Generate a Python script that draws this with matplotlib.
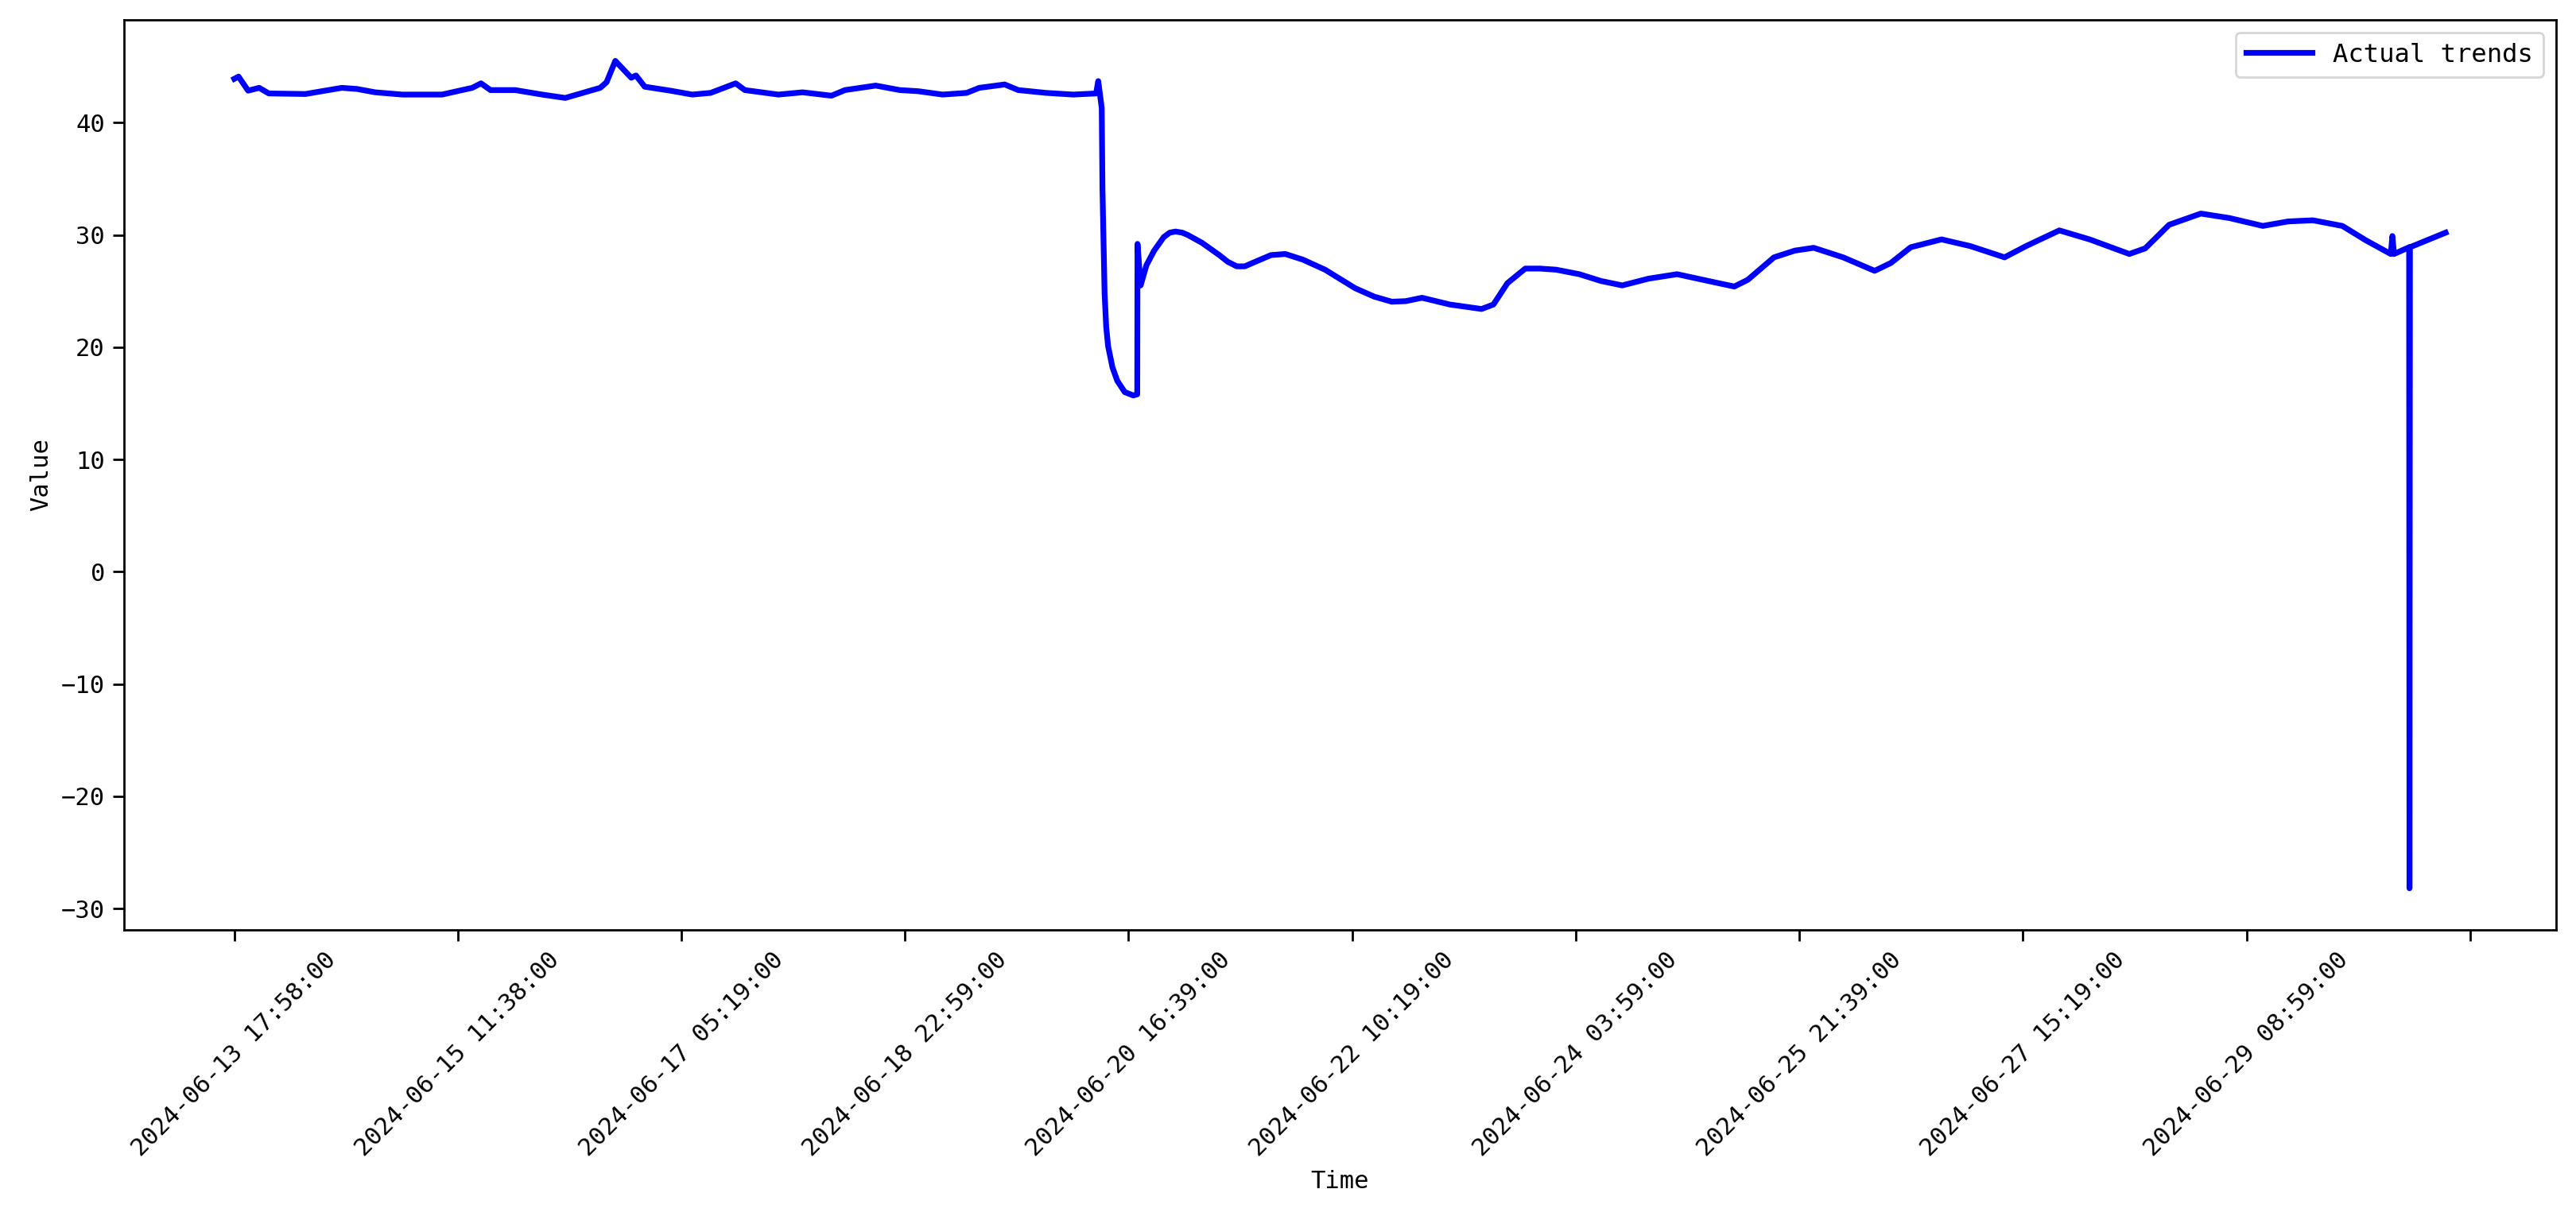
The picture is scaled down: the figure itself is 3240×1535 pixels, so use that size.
import matplotlib
matplotlib.use('Agg')
import matplotlib.pyplot as plt

plt.rcParams['font.family'] = ['DejaVu Sans Mono', 'Noto Sans CJK SC']
plt.rcParams['axes.unicode_minus'] = True

# sample index (1 sample / minute) and value
sample_idx = [0, 48, 155, 279, 386, 795, 1203, 1372, 1577, 1879,
              2323, 2661, 2759, 2865, 3141, 3443, 3701, 4092, 4163, 4261,
              4439, 4492, 4590, 4874, 5122, 5327, 5607, 5709, 6083, 6355,
              6678, 6829, 7172, 7442, 7646, 7922, 8189, 8331, 8615, 8766,
              9077, 9380, 9637, 9661, 9700, 9708, 9732, 9750, 9771, 9820,
              9874, 9957, 10052, 10097, 10100, 10135, 10200, 10286, 10393, 10460,
              10526, 10600, 10660, 10820, 11015, 11110, 11210, 11300, 11415, 11592,
              11752, 11948, 12197, 12534, 12747, 12943, 13100, 13281, 13592, 13947,
              14080, 14236, 14436, 14600, 14782, 15040, 15280, 15520, 15813, 16133,
              16480, 16773, 16924, 17217, 17450, 17661, 17990, 18342, 18524, 18746,
              19090, 19413, 19795, 20035, 20408, 20746, 21190, 21368, 21635, 21990,
              22310, 22683, 22968, 23243, 23572, 23839, 24114, 24132, 24150, 24319,
              24323, 24328, 24727]
values = [43.9, 44.1, 42.85, 43.1, 42.6, 42.55, 43.1, 43.0, 42.7, 42.5,
          42.5, 43.1, 43.5, 42.9, 42.9, 42.5, 42.2, 43.1, 43.6, 45.5,
          44.0, 44.2, 43.2, 42.85, 42.5, 42.65, 43.5, 42.9, 42.5, 42.7,
          42.4, 42.9, 43.3, 42.9, 42.8, 42.5, 42.65, 43.1, 43.4, 42.9,
          42.65, 42.5, 42.6, 43.7, 41.3, 34.2, 24.8, 21.8, 20.1, 18.2,
          17.0, 16.0, 15.7, 15.8, 29.2, 25.5, 27.3, 28.6, 29.8, 30.2,
          30.3, 30.2, 30.0, 29.3, 28.2, 27.6, 27.2, 27.2, 27.6, 28.2,
          28.3, 27.8, 26.9, 25.25, 24.5, 24.05, 24.1, 24.4, 23.8, 23.4,
          23.8, 25.7, 27.0, 27.0, 26.9, 26.5, 25.9, 25.5, 26.1, 26.5,
          25.9, 25.4, 26.0, 28.0, 28.6, 28.85, 28.0, 26.8, 27.5, 28.9,
          29.6, 29.0, 28.0, 29.0, 30.4, 29.6, 28.3, 28.8, 30.9, 31.9,
          31.5, 30.8, 31.2, 31.3, 30.8, 29.5, 28.3, 29.9, 28.3, 28.9,
          -28.2, 28.9, 30.2]

tick_idx = [0, 2500, 5000, 7500, 10000, 12500, 15000, 17500, 20000, 22500, 25000]
tick_labels = ['2024-06-13 17:58:00', '2024-06-15 11:38:00', '2024-06-17 05:19:00',
               '2024-06-18 22:59:00', '2024-06-20 16:39:00', '2024-06-22 10:19:00',
               '2024-06-24 03:59:00', '2024-06-25 21:39:00', '2024-06-27 15:19:00',
               '2024-06-29 08:59:00', '']

fig, ax = plt.subplots(figsize=(3241 / 200, 1535 / 200), dpi=200)
fig.subplots_adjust(left=0.048, right=0.992, top=0.984, bottom=0.238)

ax.plot(sample_idx, values, color='blue', linewidth=2.6, label='Actual trends')

ax.set_xticks(tick_idx)
ax.set_xticklabels(tick_labels, rotation=45, fontsize=11)
ax.tick_params(axis='y', labelsize=11)
ax.tick_params(length=5, width=1)
for s in ax.spines.values():
    s.set_linewidth(1.0)

ax.set_xlabel('Time', fontsize=11)
ax.set_ylabel('Value', fontsize=11)
ax.legend(loc='upper right', fontsize=11.6, handlelength=2.6)

fig.savefig('out.png', dpi=200)
